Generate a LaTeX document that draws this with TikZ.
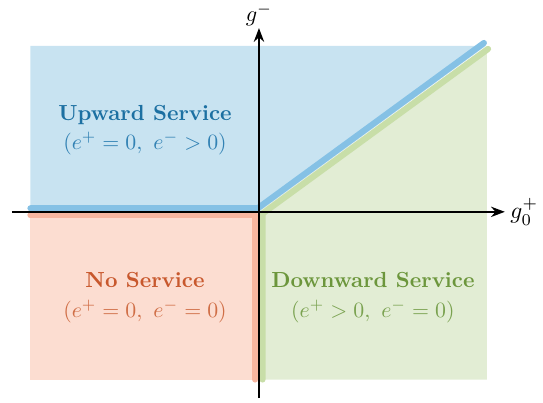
\documentclass[tikz,border=0pt]{standalone}
\usepackage{amsfonts,amssymb,amsmath}
\usepackage{xcolor}
\usepackage{tikz}
\usetikzlibrary{arrows.meta}
\definecolor{upfill}{RGB}{200,227,241}
\definecolor{upline}{RGB}{133,193,229}
\definecolor{uptext}{RGB}{28,112,162}
\definecolor{uplight}{RGB}{50,130,180}
\definecolor{nofill}{RGB}{252,221,209}
\definecolor{noline}{RGB}{247,182,160}
\definecolor{notext}{RGB}{200,88,45}
\definecolor{nolight}{RGB}{208,110,70}
\definecolor{dnfill}{RGB}{226,237,212}
\definecolor{dnline}{RGB}{200,222,168}
\definecolor{dntext}{RGB}{108,150,60}
\definecolor{dnlight}{RGB}{122,162,80}
\tikzset{border/.style={line width=2.9pt,line cap=round,line join=round},
  axis/.style={thick,-Stealth},
  region/.style={align=center,scale=1.04}}
\begin{document}
\begin{tikzpicture}
\useasboundingbox(-4.34,-3.2)rectangle(4.76,3.55);
% regions
\fill[upfill](-3.83,0)--(0,0)--(3.8,2.78)--(-3.83,2.78)--cycle;
\fill[nofill](-3.83,0)rectangle(0,-2.81);
\fill[dnfill](0,0)--(3.82,2.78)--(3.82,-2.81)--(0,-2.81)--cycle;
% boundaries
\draw[border,noline](-3.83,-0.06)--(-0.06,-0.06)--(-0.06,-2.81);
\draw[border,dnline](0.06,-2.81)--(0.06,-0.03)--(3.84,2.73);
\draw[border,upline](-3.83,0.06)--(-0.02,0.06)--(3.77,2.83);
% axes
\coordinate(xl)at(-4.14,0);\coordinate(xr)at(4.12,0);
\coordinate(yb)at(0,-3.12);\coordinate(yt)at(0,3.08);
\draw[axis](xl)--(xr)node[right,inner sep=2pt,scale=1.12](gx){$g_0^+$};
\draw[axis](yb)--(yt)node[above,inner sep=0.5pt,scale=1.06](gy){$g^-$};
% labels
\node[region,text=uptext](up)at(-1.91,1.37){\textbf{Upward Service}\\[1.5pt]{\color{uplight}$(e^+=0,\ e^->0)$}};
\node[region,text=notext](no)at(-1.91,-1.44){\textbf{No Service}\\[1.5pt]{\color{nolight}$(e^+=0,\ e^-=0)$}};
\node[region,text=dntext](down)at(1.91,-1.44){\textbf{Downward Service}\\[1.5pt]{\color{dnlight}$(e^+>0,\ e^-=0)$}};
\end{tikzpicture}
\end{document}
